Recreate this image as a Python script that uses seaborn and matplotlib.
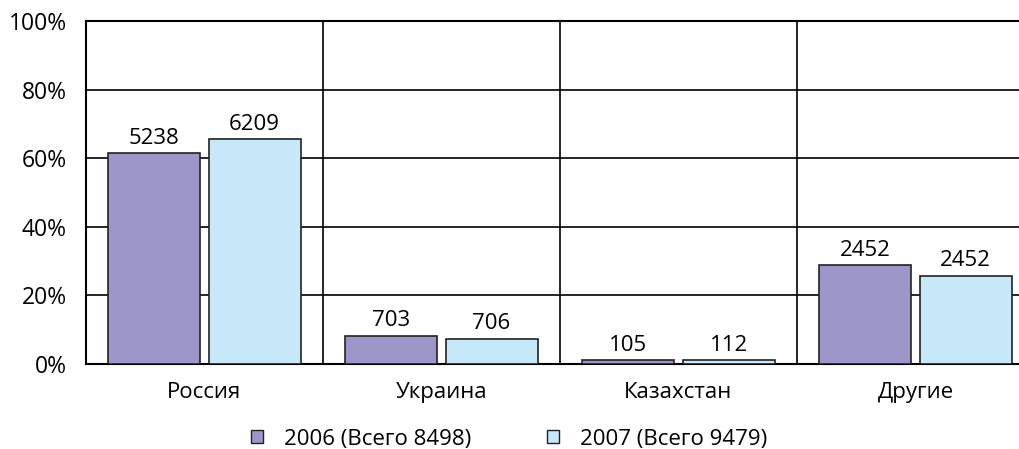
import pandas as pd
import matplotlib
matplotlib.use("Agg")
import matplotlib.pyplot as plt
import seaborn as sns
from matplotlib.patches import Patch

# data
countries = ["Россия", "Украина", "Казахстан", "Другие"]
counts_2006 = [5238, 703, 105, 2452]
counts_2007 = [6209, 706, 112, 2452]
pct_2006 = [61.6, 8.3, 1.2, 28.8]
pct_2007 = [65.5, 7.4, 1.2, 25.8]
series = ["2006 (Всего 8498)", "2007 (Всего 9479)"]
yticks = [0, 20, 40, 60, 80, 100]

colors = ["#9d96c8", "#c6e8f8"]

df = pd.DataFrame({
    "country": countries * 2,
    "pct": pct_2006 + pct_2007,
    "count": counts_2006 + counts_2007,
    "year": [series[0]] * 4 + [series[1]] * 4,
})

sns.set_style("white")
plt.rcParams["font.family"] = ["Open Sans", "DejaVu Sans"]
plt.rcParams["text.color"] = "black"
plt.rcParams["xtick.color"] = "black"
plt.rcParams["ytick.color"] = "black"

fs = 16

fig = plt.figure(figsize=(10.2, 4.49), dpi=100)
ax = fig.add_axes([86 / 1020, 85 / 449, 948 / 1020, 343 / 449])

sns.barplot(data=df, x="country", y="pct", hue="year", palette=colors,
            saturation=1, width=0.845, gap=0.08, edgecolor="#222222",
            linewidth=1.2, legend=False, ax=ax, zorder=3)

# value labels above bars
for cont, vals in zip(ax.containers, [counts_2006, counts_2007]):
    ax.bar_label(cont, labels=[str(v) for v in vals], padding=3, fontsize=fs)

ax.set_ylim(0, 100)
ax.set_xlim(-0.5, 3.5)
ax.set_yticks(yticks)
ax.set_yticklabels([f"{t}%" for t in yticks], fontsize=fs + 0.5)
ax.tick_params(axis="y", length=0, pad=14)
ax.tick_params(axis="x", length=0, pad=13, labelsize=fs)
ax.set_xlabel("")
ax.set_ylabel("")

for t in yticks[1:-1]:
    ax.axhline(t, color="black", lw=1.2, zorder=1)
for xv in [0.5, 1.5, 2.5]:
    ax.axvline(xv, color="black", lw=1.2, zorder=1)
for s in ax.spines.values():
    s.set_color("black")
    s.set_linewidth(1.5)

handles = [Patch(facecolor=c, edgecolor="#222222", linewidth=1) for c in colors]
fig.legend(handles, series, loc="center", bbox_to_anchor=(509 / 1020, 1 - 439 / 449),
           ncol=2, frameon=False, fontsize=fs, handlelength=0.55, handleheight=0.55,
           columnspacing=3.4, handletextpad=0.95, borderpad=0)

fig.savefig("out.png", dpi=100)
